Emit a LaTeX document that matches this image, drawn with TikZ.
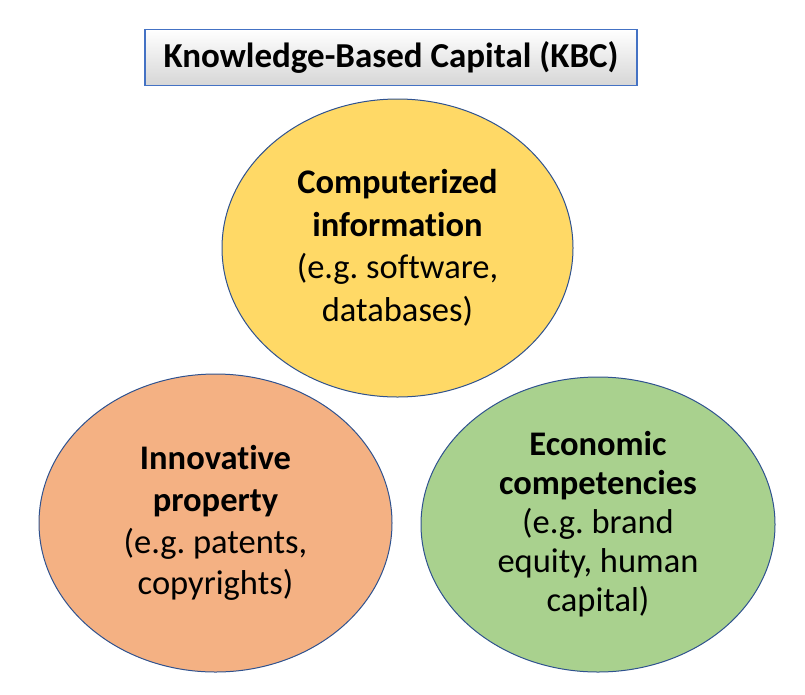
\documentclass[tikz,border=0pt]{standalone}
\usepackage{fontspec}
\setmainfont{Carlito}[Ligatures=NoCommon]
\usetikzlibrary{shapes.geometric}
\definecolor{edgeblue}{HTML}{2F528F}
\definecolor{titleblue}{HTML}{4472C4}
\definecolor{gold}{HTML}{FFD966}
\definecolor{peach}{HTML}{F4B183}
\definecolor{leaf}{HTML}{A9D18E}
\definecolor{boxgray}{HTML}{D6D6D6}
\tikzset{
  blob/.style={ellipse, draw=edgeblue, line width=1pt, align=center, inner sep=0pt},
  titlebox/.style={draw=titleblue, line width=1.6pt, top color=white, bottom color=boxgray,
    font=\fontsize{35}{40}\selectfont\bfseries, inner sep=0pt}
}
\begin{document}
\frenchspacing
\begin{tikzpicture}[x=1pt,y=1pt]
\useasboundingbox (0,0) rectangle (805,-694);
\node[titlebox, minimum width=492pt, minimum height=56pt] (title) at (391,-57.5) {Knowledge-Based Capital (KBC)};
\node[blob, fill=gold, minimum width=351pt, minimum height=298pt, font=\fontsize{34.5}{42.5}\selectfont\frenchspacing] (comp) at (397.5,-248)
  {\textbf{Computerized}\\\textbf{information}\\(e.g. software,\\databases)};
\node[blob, fill=peach, minimum width=353pt, minimum height=298pt, font=\fontsize{34.5}{41.7}\selectfont\frenchspacing] (innov) at (215.5,-523)
  {\textbf{Innovative}\\\textbf{property}\\(e.g. patents,\\copyrights)};
\node[blob, fill=leaf, minimum width=354pt, minimum height=295pt, font=\fontsize{34.5}{39}\selectfont\frenchspacing] (econ) at (598,-524.5)
  {\textbf{Economic}\\\textbf{competencies}\\(e.g. brand\\equity, human\\capital)};
\end{tikzpicture}
\end{document}
